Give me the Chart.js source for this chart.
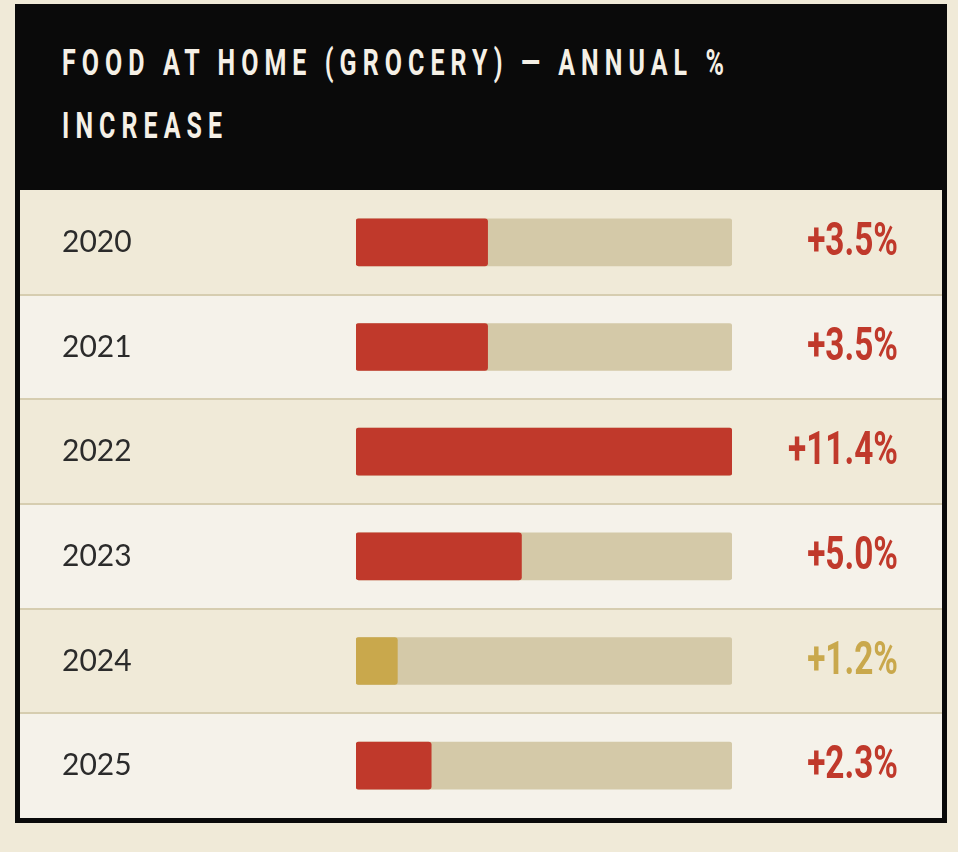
<!DOCTYPE html>
<html lang="en">
<head>
    <meta charset="UTF-8">
    <title>Food at home - annual increase</title>
    <script src="https://cdn.jsdelivr.net/npm/chart.js"></script>
    <style>
        html, body { margin: 0; padding: 0; background: #f0ead8; }
        .painel {
            position: absolute; left: 15px; top: 4px;
            width: 932px; height: 819px;
            border: 5px solid #0a0a0a; box-sizing: border-box;
            background: #0a0a0a;
        }
        .titulo {
            height: 181px; box-sizing: border-box; overflow: hidden;
            padding: 22px 0 0 42px;
            color: #f5f0e6;
            font-family: Roboto, "Noto Sans", sans-serif;
            font-weight: bold; font-size: 37px; line-height: 63px;
            letter-spacing: 9px;
            white-space: nowrap;
        }
        .titulo span { display: inline-block; transform-origin: 0 50%; }
        .linhas { position: relative; width: 922px; height: 628px; }
    </style>
</head>
<body>
    <div class="painel">
        <div class="titulo"><span id="l1">FOOD AT HOME (GROCERY) — ANNUAL %</span><br><span id="l2">INCREASE</span></div>
        <div class="linhas"><canvas id="grafico"></canvas></div>
    </div>
<script>
    // dados
    const anos = ['2020', '2021', '2022', '2023', '2024', '2025'];
    const aumentos = [3.5, 3.5, 11.4, 5.0, 1.2, 2.3];       // texto à direita (%)
    const preenchimento = [35, 35, 100, 44, 11, 20];         // comprimento da barra (% da trilha)
    const trilha = [100, 100, 100, 100, 100, 100];
    const destaque = [false, false, false, false, true, false]; // 2024 em dourado

    const vermelho = '#c0392b';
    const dourado = '#c9a84c';

    // título condensado (fonte estreita não disponível)
    const l1 = document.getElementById('l1');
    const escala = 668 / l1.getBoundingClientRect().width;
    l1.style.transform = 'scaleX(' + escala + ')';
    document.getElementById('l2').style.transform = 'scaleX(' + escala + ')';

    // fundo das linhas e separadores
    const fundoLinhas = {
        id: 'fundoLinhas',
        beforeDraw(chart) {
            const ctx = chart.ctx;
            const y = chart.scales.y;
            const passo = y.getPixelForValue(1) - y.getPixelForValue(0);
            ctx.save();
            for (let i = 0; i < anos.length; i++) {
                const c = y.getPixelForValue(i);
                ctx.fillStyle = i % 2 === 0 ? '#f0ead8' : '#f5f2ea';
                ctx.fillRect(0, c - passo / 2, chart.width, passo);
            }
            ctx.fillStyle = '#d6cdb0';
            for (let i = 1; i < anos.length; i++) {
                const c = y.getPixelForValue(i) - passo / 2;
                ctx.fillRect(0, Math.round(c) - 1, chart.width, 2);
            }
            ctx.restore();
        }
    };

    // valores à direita
    const rotulos = {
        id: 'rotulos',
        afterDatasetsDraw(chart) {
            const ctx = chart.ctx;
            const y = chart.scales.y;
            ctx.save();
            ctx.font = 'bold 47px Roboto, "Noto Sans", sans-serif';
            ctx.textAlign = 'right';
            ctx.textBaseline = 'middle';
            for (let i = 0; i < aumentos.length; i++) {
                ctx.fillStyle = destaque[i] ? dourado : vermelho;
                ctx.save();
                ctx.translate(878, y.getPixelForValue(i) + 1);
                ctx.scale(0.71, 1);
                ctx.fillText('+' + aumentos[i].toFixed(1) + '%', 0, 0);
                ctx.restore();
            }
            ctx.restore();
        }
    };

    const dados = {
        labels: anos,
        datasets: [
            {
                label: 'Aumento',
                data: preenchimento,
                backgroundColor: destaque.map(d => d ? dourado : vermelho),
                borderRadius: 3,
                borderSkipped: false,
                barThickness: 47,
                grouped: false,
                order: 1
            },
            {
                label: 'Trilha',
                data: trilha,
                backgroundColor: '#d4c9a8',
                borderRadius: 3,
                borderSkipped: false,
                barThickness: 47,
                grouped: false,
                order: 2
            }
        ]
    };

    const config = {
        type: 'bar',
        data: dados,
        options: {
            indexAxis: 'y',
            responsive: true,
            maintainAspectRatio: false,
            animation: false,
            layout: { padding: { left: 42, right: 210, top: 0, bottom: 0 } },
            scales: {
                x: { display: false, min: 0, max: 100 },
                y: {
                    offset: true,
                    grid: { display: false },
                    border: { display: false },
                    afterFit(scale) {
                        scale.width = 294;
                        scale.paddingTop = 0;
                        scale.paddingBottom = 0;
                    },
                    ticks: {
                        crossAlign: 'far',
                        color: '#2b2b2b',
                        font: { family: 'Lato, "Noto Sans", sans-serif', size: 30 }
                    }
                }
            },
            plugins: {
                legend: { display: false },
                tooltip: { enabled: false }
            }
        },
        plugins: [fundoLinhas, rotulos]
    };

    new Chart(document.getElementById('grafico'), config);
</script>
</body>
</html>
